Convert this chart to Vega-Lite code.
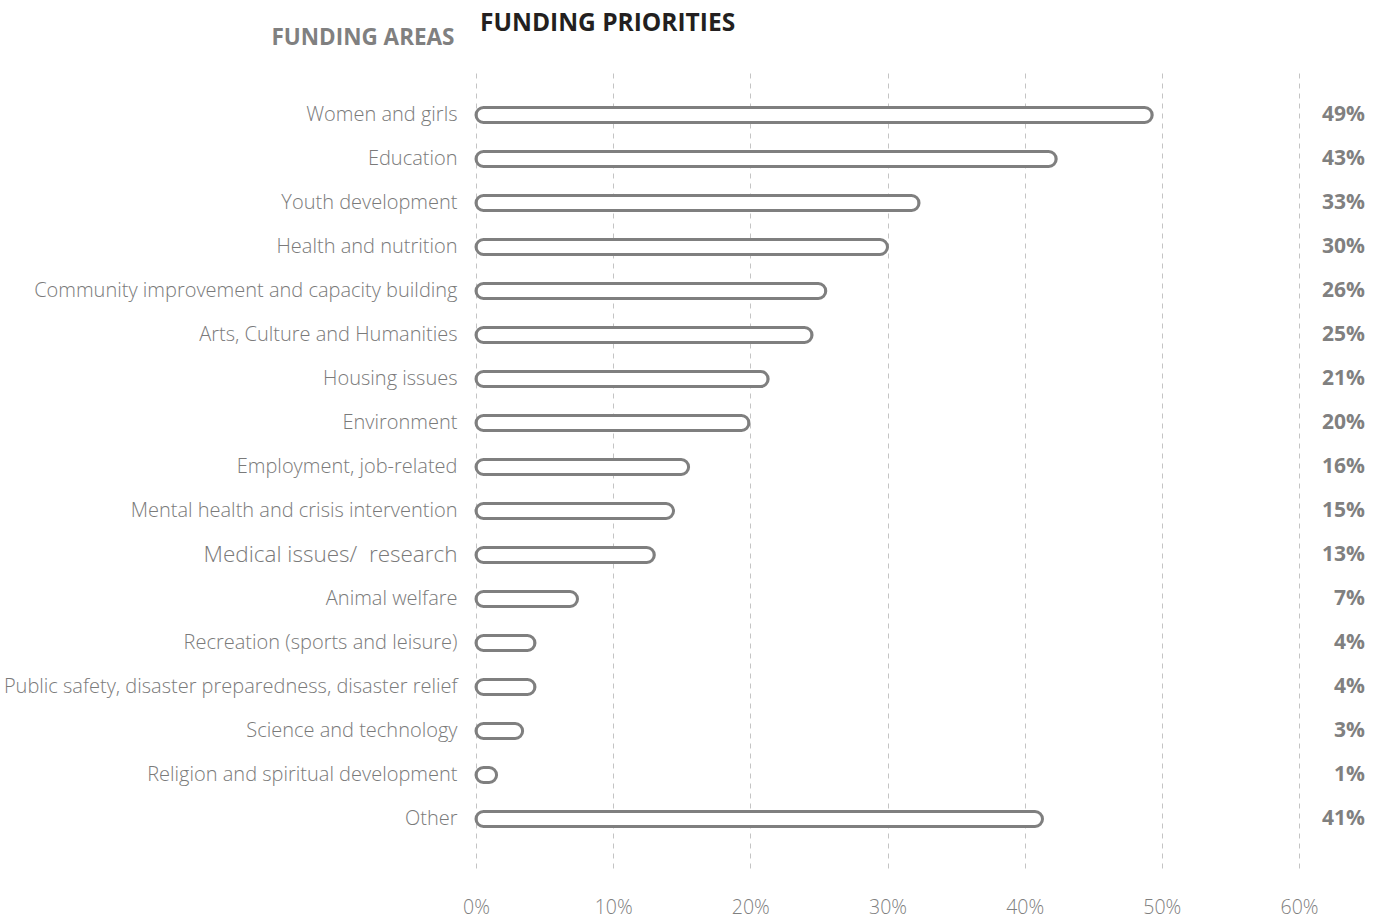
{
  "$schema": "https://vega.github.io/schema/vega-lite/v6.json",
  "autosize": {"type": "none"},
  "padding": {"left": 476, "top": 70, "right": 80, "bottom": 50},
  "width": 823,
  "height": 798,
  "background": "white",
  "title": {
    "text": "FUNDING PRIORITIES",
    "anchor": "start",
    "frame": "group",
    "baseline": "alphabetic",
    "offset": 0,
    "dy": 29,
    "dx": 4,
    "font": "Open Sans",
    "fontSize": 24.5,
    "fontWeight": "bold",
    "color": "#231f20"
  },
  "config": {
    "view": {"stroke": null},
    "font": "Open Sans"
  },
  "data": {
    "values": [
      {"area": "Women and girls", "value": 0.493, "pct": "49%"},
      {"area": "Education", "value": 0.423, "pct": "43%"},
      {"area": "Youth development", "value": 0.323, "pct": "33%"},
      {"area": "Health and nutrition", "value": 0.30, "pct": "30%"},
      {"area": "Community improvement and capacity building", "value": 0.255, "pct": "26%"},
      {"area": "Arts, Culture and Humanities", "value": 0.245, "pct": "25%"},
      {"area": "Housing issues", "value": 0.213, "pct": "21%"},
      {"area": "Environment", "value": 0.199, "pct": "20%"},
      {"area": "Employment, job-related", "value": 0.155, "pct": "16%"},
      {"area": "Mental health and crisis intervention", "value": 0.144, "pct": "15%"},
      {"area": "Medical issues/\u00a0 research\u00a0", "value": 0.13, "pct": "13%"},
      {"area": "Animal welfare", "value": 0.074, "pct": "7%"},
      {"area": "Recreation (sports and leisure)", "value": 0.043, "pct": "4%"},
      {"area": "Public safety, disaster preparedness, disaster relief", "value": 0.043, "pct": "4%"},
      {"area": "Science and technology", "value": 0.034, "pct": "3%"},
      {"area": "Religion and spiritual development", "value": 0.015, "pct": "1%"},
      {"area": "Other", "value": 0.413, "pct": "41%"}
    ]
  },
  "encoding": {
    "y": {
      "field": "area",
      "type": "nominal",
      "sort": null,
      "scale": {"paddingInner": 0, "paddingOuter": 0.568, "align": 0.46},
      "axis": {
        "title": "FUNDING AREAS",
        "titleAngle": 0,
        "titleAlign": "right",
        "titleBaseline": "middle",
        "titleX": -22,
        "titleY": -33,
        "titleFont": "Open Sans",
        "titleFontSize": 22.5,
        "titleFontWeight": "bold",
        "titleColor": "#808080",
        "domain": false,
        "ticks": false,
        "labelPadding": 19,
        "labelFont": "Open Sans",
        "labelFontWeight": 300,
        "labelFontSize": {"condition": {"test": "datum.value === 'Medical issues/\u00a0 research\u00a0'", "value": 22.5}, "value": 20},
        "labelColor": "#7a7a7a",
        "labelLimit": 600
      }
    }
  },
  "layer": [
    {
      "mark": {
        "type": "bar",
        "height": 15,
        "cornerRadius": 7.5,
        "fill": "white",
        "stroke": "#7f7f7f",
        "strokeWidth": 3
      },
      "encoding": {
        "x": {
          "field": "value",
          "type": "quantitative",
          "scale": {"domain": [0, 0.6], "nice": false},
          "axis": {
            "title": null,
            "format": "%",
            "values": [0, 0.1, 0.2, 0.3, 0.4, 0.5, 0.6],
            "domain": false,
            "ticks": false,
            "grid": true,
            "gridColor": "#c4c4c4",
            "gridDash": [5, 5],
            "gridWidth": 1,
            "labelFlush": false,
            "labelPadding": 30,
            "labelFont": "Open Sans",
            "labelFontWeight": 300,
            "labelFontSize": 19.5,
            "labelColor": "#808080"
          }
        }
      }
    },
    {
      "mark": {
        "type": "text",
        "align": "right",
        "baseline": "middle",
        "font": "Open Sans",
        "fontSize": 21,
        "fontWeight": "bold",
        "color": "#808080"
      },
      "encoding": {
        "x": {"datum": 0.648},
        "text": {"field": "pct", "type": "nominal"}
      }
    }
  ]
}
